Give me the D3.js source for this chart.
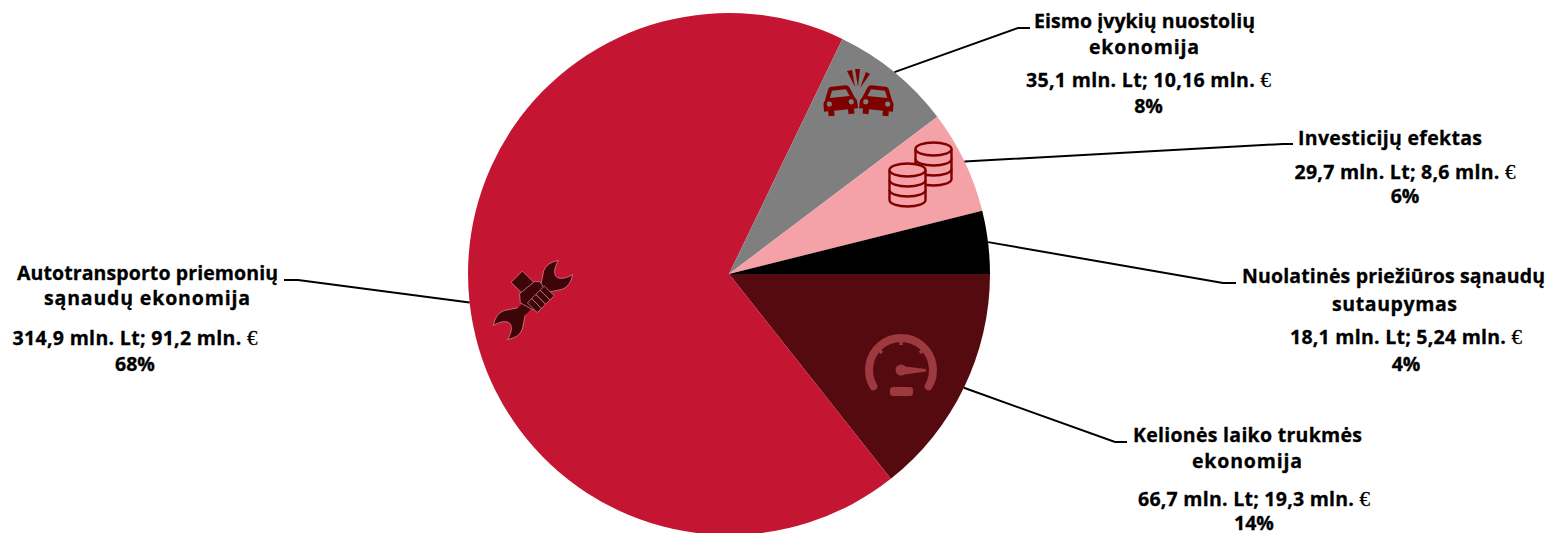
<!DOCTYPE html>
<html>
<head>
<meta charset="utf-8">
<script src="https://cdn.jsdelivr.net/npm/d3@7"></script>
<style>
html, body { margin: 0; padding: 0; background: #fff; }
text { font-family: "Open Sans", "Lato", sans-serif; font-weight: 700; font-size: 19.5px; fill: #000; stroke: #000; stroke-width: 0.3px; }
.euro { font-family: "Liberation Serif", serif; font-weight: 400; font-size: 21px; }
</style>
</head>
<body>
<svg id="chart" width="1552" height="533"></svg>
<script>
var categories = [
    ["Kelionės laiko trukmės", "ekonomija"],
    ["Autotransporto priemonių", "sąnaudų ekonomija"],
    ["Eismo įvykių nuostolių", "ekonomija"],
    ["Investicijų efektas"],
    ["Nuolatinės priežiūros sąnaudų", "sutaupymas"]
];
var valuesLt = [66.7, 314.9, 35.1, 29.7, 18.1];
var valuesEur = [19.3, 91.2, 10.16, 8.6, 5.24];
var percents = [14, 68, 8, 6, 4];
var colors = ["#550a10", "#c41632", "#7f7f7f", "#f4a1a7", "#000000"];

var cx = 729, cy = 274, radius = 261;

// label layout: title centre/baseline/width, value centre/baselines/width, leader elbow and end
var labelLayout = [
    {tx: [1247.5, 1247], ty: [442, 468], tw: [229, 110], vx: 1254, vy: [506, 530], vw: 232, elbow: [1115, 442], end: [1127, 442]},
    {tx: [147.5, 147], ty: [280, 305], tw: [261, 206], vx: 135, vy: [345, 371], vw: 245, elbow: [298, 280], end: [284, 280]},
    {tx: [1144.5, 1144], ty: [28, 54], tw: [221, 110], vx: 1148.5, vy: [87, 113], vw: 245, elbow: [1018, 28], end: [1030, 28]},
    {tx: [1390], ty: [145], tw: [184], vx: 1405, vy: [179, 203], vw: 221, elbow: [1283, 144], end: [1293, 144]},
    {tx: [1393.5, 1394.5], ty: [283, 311], tw: [303, 125], vx: 1406, vy: [344, 371], vw: 232, elbow: [1223, 283], end: [1236, 283]}
];

var svg = d3.select("#chart");

var pie = d3.pie()
    .sort(null)
    .startAngle(Math.PI / 2)
    .endAngle(Math.PI / 2 + 2 * Math.PI);
var arc = d3.arc().innerRadius(0).outerRadius(radius);
var arcs = pie(valuesLt);

var pieG = svg.append("g").attr("transform", "translate(" + cx + "," + cy + ")");
pieG.selectAll("path")
    .data(arcs)
    .enter()
    .append("path")
    .attr("d", arc)
    .attr("fill", function(d, i) { return colors[i]; });

// leader lines
var line = d3.line();
svg.selectAll(".leader")
    .data(arcs)
    .enter()
    .append("path")
    .attr("class", "leader")
    .attr("fill", "none")
    .attr("stroke", "#000")
    .attr("stroke-width", 2)
    .attr("d", function(d, i) {
        var a = (d.startAngle + d.endAngle) / 2;
        var p = [cx + radius * Math.sin(a), cy - radius * Math.cos(a)];
        return line([p, labelLayout[i].elbow, labelLayout[i].end]);
    });

function fmt(v) { return String(v).replace(".", ","); }

// labels
categories.forEach(function(title, i) {
    var l = labelLayout[i];
    title.forEach(function(t, j) {
        svg.append("text").attr("x", l.tx[j]).attr("y", l.ty[j])
            .attr("text-anchor", "middle")
            .attr("textLength", l.tw[j]).attr("lengthAdjust", "spacing")
            .text(t);
    });
    var v = svg.append("text").attr("x", l.vx).attr("y", l.vy[0])
        .attr("text-anchor", "middle")
        .attr("textLength", l.vw).attr("lengthAdjust", "spacing");
    v.append("tspan").text(fmt(valuesLt[i]) + " mln. Lt; " + fmt(valuesEur[i]) + " mln. ");
    v.append("tspan").attr("class", "euro").text("€");
    svg.append("text").attr("x", l.vx).attr("y", l.vy[1])
        .attr("text-anchor", "middle").text(percents[i] + "%");
});

// icon: car crash
function drawCar(g) {
    g.append("path").attr("fill", "#800000")
        .attr("d", "M-15,-1 L-11,-11 Q-10,-14 -7,-14 L7,-14 Q10,-14 11,-11 L15,-1 Q17,1 17,4 L17,10 L13,10 L13,15 L7,15 L7,10 L-7,10 L-7,15 L-13,15 L-13,10 L-17,10 L-17,4 Q-17,1 -15,-1 Z");
    g.append("path").attr("fill", "#7f7f7f").attr("d", "M-10,-3 L-7,-10 L7,-10 L10,-3 Z");
    g.append("circle").attr("cx", -11).attr("cy", 3).attr("r", 2.6).attr("fill", "#7f7f7f");
    g.append("circle").attr("cx", 11).attr("cy", 3).attr("r", 2.6).attr("fill", "#7f7f7f");
}
drawCar(svg.append("g").attr("transform", "translate(840,100) rotate(-6)"));
drawCar(svg.append("g").attr("transform", "translate(877,100) rotate(6)"));
svg.append("g").attr("fill", "#800000").selectAll("path")
    .data(["M847,71 L852,70 L855,87 Z", "M855,69 L860,69 L858,87 Z", "M866,72 L870,74 L860,88 Z"])
    .enter().append("path").attr("d", function(d) { return d; });

// icon: coin stacks
function drawCoins(g) {
    var c = "#800000";
    var rx = 18, ry = 6.5;
    g.append("path").attr("fill", "#f4a1a7").attr("stroke", c).attr("stroke-width", 2.4)
        .attr("d", "M" + (-rx) + ",0 L" + (-rx) + ",30 A" + rx + "," + ry + " 0 0 0 " + rx + ",30 L" + rx + ",0");
    [10, 20].forEach(function(y) {
        g.append("path").attr("fill", "none").attr("stroke", c).attr("stroke-width", 2.4)
            .attr("d", "M" + (-rx) + "," + y + " A" + rx + "," + ry + " 0 0 0 " + rx + "," + y);
    });
    g.append("ellipse").attr("rx", rx).attr("ry", ry).attr("fill", "#f4a1a7").attr("stroke", c).attr("stroke-width", 2.4);
}
drawCoins(svg.append("g").attr("transform", "translate(933.5,149)"));
drawCoins(svg.append("g").attr("transform", "translate(907.5,170)"));

// icon: gauge
var gauge = svg.append("g").attr("transform", "translate(901,370)").attr("fill", "#9c3a3f");
gauge.append("path")
    .attr("fill", "none").attr("stroke", "#9c3a3f").attr("stroke-width", 8).attr("stroke-linecap", "round")
    .attr("d", "M-27.6,16.2 A32,32 0 1 1 27.6,16.2");
gauge.append("circle").attr("r", 5.5);
gauge.append("path").attr("d", "M0,-4 L25,-1 L25,1.5 L0,5 Z");
gauge.append("rect").attr("x", -11).attr("y", 17).attr("width", 23).attr("height", 9).attr("rx", 3);
[[0, -30, 0, -25], [-23, -21, -19, -17], [23, -21, 19, -17]].forEach(function(t) {
    gauge.append("line").attr("x1", t[0]).attr("y1", t[1]).attr("x2", t[2]).attr("y2", t[3])
        .attr("stroke", "#9c3a3f").attr("stroke-width", 3.5);
});

// icon: hand holding a wrench
var wrench = svg.append("g").attr("transform", "translate(533,300) rotate(-45)")
    .attr("fill", "#3d0508").attr("stroke", "#d98a93").attr("stroke-width", 0.7);
var headPath = "M46,-10 Q36,-17 28,-13 Q22,-9 16,-5 L16,5 Q22,9 28,13 Q36,17 46,10 C38,8 33,4 33,0 C33,-4 38,-8 46,-10 Z";
wrench.append("path").attr("d", headPath);
wrench.append("g").attr("transform", "scale(-1,1)").append("path").attr("d", headPath);
wrench.append("rect").attr("x", -20).attr("y", -5).attr("width", 40).attr("height", 10).attr("stroke", "none");
wrench.append("rect").attr("x", -3).attr("y", -28).attr("width", 16).attr("height", 16).attr("rx", 1);
wrench.append("path").attr("d", "M-5,-14 L-11,-7 L-7,7 L16,0 L18,-8 L14,-12 Z");
[-6, 0, 6, 12].forEach(function(x) {
    wrench.append("rect").attr("x", x).attr("y", -2).attr("width", 6).attr("height", 14).attr("rx", 1);
});
</script>
</body>
</html>
